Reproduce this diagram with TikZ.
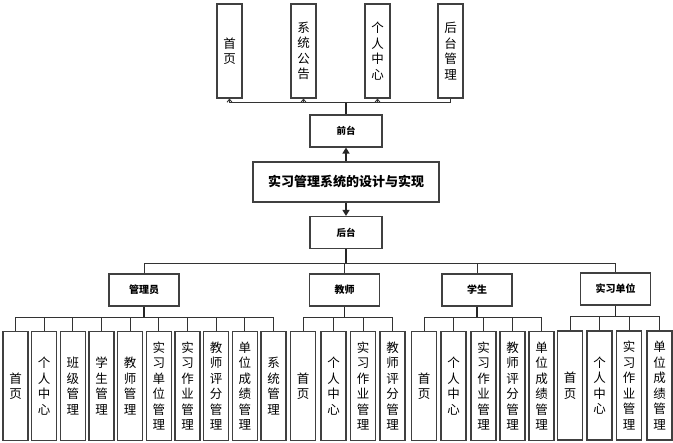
\documentclass[tikz,border=0pt]{standalone}
\usepackage{fontspec}
\newfontfamily\cjk{Noto Sans CJK SC}
\usetikzlibrary{arrows.meta}
\tikzset{
  box/.style={draw=black!75, line width=1.1pt, rectangle, inner sep=0pt, fill=white},
  leaf/.style={box, minimum width=25pt, minimum height=109pt, align=center,
     font=\cjk\fontsize{12.5}{15.5}\selectfont},
  topbox/.style={box, minimum width=25pt, minimum height=94pt, align=center,
     font=\cjk\fontsize{12.5}{15.5}\selectfont},
  midbox/.style={box, minimum width=72pt, minimum height=32pt, font=\cjk\bfseries\fontsize{9.5}{11}\selectfont},
  rolebox/.style={box, minimum width=70pt, minimum height=32pt, font=\cjk\bfseries\fontsize{10}{12}\selectfont},
  mainbox/.style={box, minimum width=186pt, minimum height=40pt, font=\cjk\bfseries\fontsize{13}{15}\selectfont},
  conn/.style={draw=black!80, line width=0.9pt},
  trunk/.style={draw=black!85, line width=1.6pt},
  uparrow/.style={conn, -{Straight Barb[length=3pt,width=5pt]}},
  bigarrow/.style={draw=black!85, line width=1.3pt, -{Triangle[length=6pt,width=7pt]}}
}
\begin{document}
\begin{tikzpicture}[x=1pt,y=-1pt]
\useasboundingbox (0,0) rectangle (673,443);
% top level
\node[topbox] (t1) at (229.5,51) {首\\页};
\node[topbox] (t2) at (303.5,51) {系\\统\\公\\告};
\node[topbox] (t3) at (377.5,51) {个\\人\\中\\心};
\node[topbox] (t4) at (450.5,51) {后\\台\\管\\理};
\node[midbox] (qt) at (346,131) {前台};
\node[mainbox] (main) at (346,182) {实习管理系统的设计与实现};
\node[midbox] (ht) at (346,232.5) {后台};
\coordinate (topbus) at (346,102.5);
\draw[trunk] (qt.north) -- (topbus);
\draw[uparrow] (topbus) -| (t1.south);
\draw[uparrow] (topbus) -| (t2.south);
\draw[uparrow] (topbus) -| (t3.south);
\draw[conn] (topbus) -| (t4.south);
\draw[bigarrow] (main.north) -- (qt.south);
\draw[bigarrow] (main.south) -- (ht.north);
% roles
\node[rolebox] (adm) at (144,290) {管理员};
\node[rolebox] (tea) at (344.5,290) {教师};
\node[rolebox] (stu) at (477,290) {学生};
\node[rolebox] (uni) at (615.5,289) {实习单位};
\coordinate (l1bus) at (346,263);
\draw[trunk] (ht.south) -- (l1bus);
\draw[conn] (l1bus) -| (adm.north);
\draw[conn] (l1bus) -| (tea.north);
\draw[conn] (l1bus) -| (stu.north);
\draw[conn] (l1bus) -| (uni.north);
% admin leaves
\node[leaf] (a1) at (15.5,386) {首\\页};
\node[leaf] (a2) at (44.2,386) {个\\人\\中\\心};
\node[leaf] (a3) at (72.8,386) {班\\级\\管\\理};
\node[leaf] (a4) at (101.5,386) {学\\生\\管\\理};
\node[leaf] (a5) at (130.2,386) {教\\师\\管\\理};
\node[leaf] (a6) at (158.8,386) {实\\习\\单\\位\\管\\理};
\node[leaf] (a7) at (187.5,386) {实\\习\\作\\业\\管\\理};
\node[leaf] (a8) at (216.2,386) {教\\师\\评\\分\\管\\理};
\node[leaf] (a9) at (244.8,386) {单\\位\\成\\绩\\管\\理};
\node[leaf] (a10) at (273.5,386) {系\\统\\管\\理};
\coordinate (busA) at (144,317);
\draw[trunk] (adm.south) -- (busA);
\foreach \n in {a1,a2,a3,a4,a5,a6,a7,a8,a9,a10} \draw[conn] (\n.north) |- (busA);
% teacher leaves
\node[leaf] (b1) at (303,386) {首\\页};
\node[leaf] (b2) at (333.5,386) {个\\人\\中\\心};
\node[leaf] (b3) at (363,386) {实\\习\\作\\业\\管\\理};
\node[leaf] (b4) at (392.5,386) {教\\师\\评\\分\\管\\理};
\coordinate (busB) at (344.5,317);
\draw[trunk] (tea.south) -- (busB);
\foreach \n in {b1,b2,b3,b4} \draw[conn] (\n.north) |- (busB);
% student leaves
\node[leaf] (c1) at (424,386) {首\\页};
\node[leaf] (c2) at (453.5,386) {个\\人\\中\\心};
\node[leaf] (c3) at (483.5,386) {实\\习\\作\\业\\管\\理};
\node[leaf] (c4) at (512.5,386) {教\\师\\评\\分\\管\\理};
\node[leaf] (c5) at (541.5,386) {单\\位\\成\\绩\\管\\理};
\coordinate (busC) at (477,317);
\draw[trunk] (stu.south) -- (busC);
\foreach \n in {c1,c2,c3,c4,c5} \draw[conn] (\n.north) |- (busC);
% unit leaves
\node[leaf] (d1) at (570,385.5) {首\\页};
\node[leaf] (d2) at (599.5,385.5) {个\\人\\中\\心};
\node[leaf] (d3) at (629,385.5) {实\\习\\作\\业\\管\\理};
\node[leaf] (d4) at (659.5,385.5) {单\\位\\成\\绩\\管\\理};
\coordinate (busD) at (615.5,316);
\draw[trunk] (uni.south) -- (busD);
\foreach \n in {d1,d2,d3,d4} \draw[conn] (\n.north) |- (busD);
\end{tikzpicture}
\end{document}
